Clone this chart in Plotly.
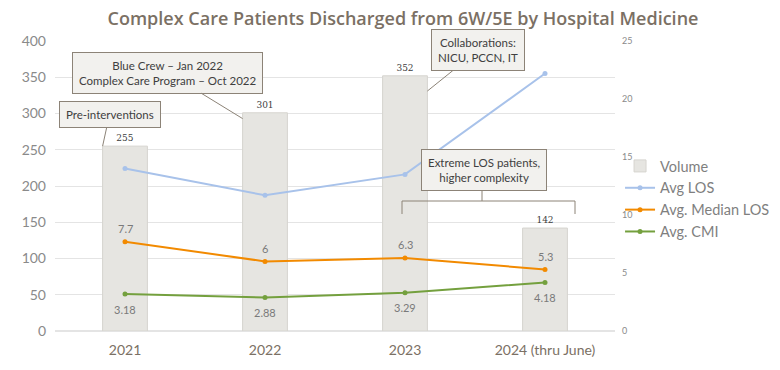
import plotly.graph_objects as go

years = ["2021", "2022", "2023", "2024 (thru June)"]
volume = [255, 301, 352, 142]
avg_los = [14.0, 11.7, 13.5, 22.2]
median_los = [7.7, 6, 6.3, 5.3]
avg_cmi = [3.18, 2.88, 3.29, 4.18]

FONT = "Lato"
GRAY = "#8a8a8a"
BAR_W = 0.32

fig = go.Figure()
fig.add_trace(go.Bar(
    x=years, y=volume, name="Volume", width=BAR_W,
    marker=dict(color="#e6e5e1", line=dict(color="#d6d4cf", width=1)),
    text=[str(v) for v in volume], textposition="outside",
    textfont=dict(family="DejaVu Serif", size=9, color="#404040"),
    cliponaxis=False,
))
fig.add_trace(go.Scatter(
    x=years, y=avg_los, name="Avg LOS", yaxis="y2", mode="lines+markers",
    line=dict(color="#a8c2ea", width=2), marker=dict(size=5),
))
fig.add_trace(go.Scatter(
    x=years, y=median_los, name="Avg. Median LOS", yaxis="y2", mode="lines+markers",
    line=dict(color="#f28a00", width=2), marker=dict(size=5),
))
fig.add_trace(go.Scatter(
    x=years, y=avg_cmi, name="Avg. CMI", yaxis="y2", mode="lines+markers",
    line=dict(color="#74a03e", width=2), marker=dict(size=5),
))

annots = []
lab_font = dict(family=FONT, size=11, color="#7a7a7a")
for i, v in enumerate(median_los):
    annots.append(dict(x=i, y=v, xref="x", yref="y2", text=str(v), showarrow=False,
                       yshift=13, font=lab_font))
for i, v in enumerate(avg_cmi):
    annots.append(dict(x=i, y=v, xref="x", yref="y2", text=str(v), showarrow=False,
                       yshift=-15, font=lab_font))

box = dict(bgcolor="#f2f1ee", bordercolor="#8c8377", borderwidth=1, borderpad=6,
           font=dict(family=FONT, size=11.5, color="#404040"))
arrow = dict(showarrow=True, arrowcolor="#8c8377", arrowwidth=1, arrowhead=0)

annots += [
    dict(text="Pre-interventions", x=0 - BAR_W / 2, y=volume[0], xref="x", yref="y",
         ax=7, ay=-32, **box, **arrow),
    dict(text="Blue Crew – Jan 2022<br>Complex Care Program – Oct 2022",
         x=1 - BAR_W / 2, y=volume[1] - 8, xref="x", yref="y", ax=-75, ay=-46, **box, **arrow),
    dict(text="Collaborations:<br>NICU, PCCN, IT", x=2 + BAR_W / 2, y=volume[2] - 21,
         xref="x", yref="y", ax=51, ay=-41, **box, **arrow),
]


def px(xp):
    return (xp - 55) / 560


def py(yp):
    return (331 - yp) / 290


annots.append(dict(text="Extreme LOS patients,<br>higher complexity",
                   x=px(484), y=py(170), xref="paper", yref="paper",
                   xanchor="center", yanchor="middle", showarrow=False, **box))

x0, x1, xm = px(402), px(575), px(482)
yb, yt, ytick = py(214), py(201), py(190)
shapes = [dict(type="path", xref="paper", yref="paper",
               path=f"M {x0} {yb} L {x0} {yt} L {x1} {yt} L {x1} {yb} M {xm} {yt} L {xm} {ytick}",
               line=dict(color="#8c8377", width=1))]

# page has an 8px body margin: figure is 772x362 and offsets compensate
fig.update_layout(
    width=772, height=362,
    margin=dict(l=47, r=165, t=33, b=39, autoexpand=False),
    paper_bgcolor="white", plot_bgcolor="white",
    font=dict(family=FONT, color=GRAY),
    title=dict(text="Complex Care Patients Discharged from 6W/5E by Hospital Medicine",
               x=(403 - 8) / 772, xanchor="center", y=1 - 11 / 362, yanchor="middle",
               font=dict(family="Open Sans", size=18, weight=600, color="#7b7064")),
    bargap=0.5,
    xaxis=dict(type="category", showgrid=False, showline=False, ticks="", ticklabelstandoff=9,
               tickfont=dict(size=14, color="#7b7064")),
    yaxis=dict(range=[0, 400], dtick=50, showgrid=True, gridcolor="#e4e4e4",
               gridwidth=1, zeroline=True, zerolinecolor="#e4e4e4", zerolinewidth=2,
               ticklabelstandoff=8, tickfont=dict(size=14, color=GRAY)),
    yaxis2=dict(range=[0, 25], dtick=5, overlaying="y", side="right", showgrid=False,
                zeroline=False, ticklabelstandoff=6, tickfont=dict(size=9, color=GRAY)),
    legend=dict(x=1.009, y=py(150), xanchor="left", yanchor="top",
                font=dict(size=14.5, color="#7f7f7f"), bgcolor="rgba(0,0,0,0)",
                tracegroupgap=1, itemwidth=30),
    annotations=annots,
    shapes=shapes,
    showlegend=True,
)

fig.write_html("out.html")
